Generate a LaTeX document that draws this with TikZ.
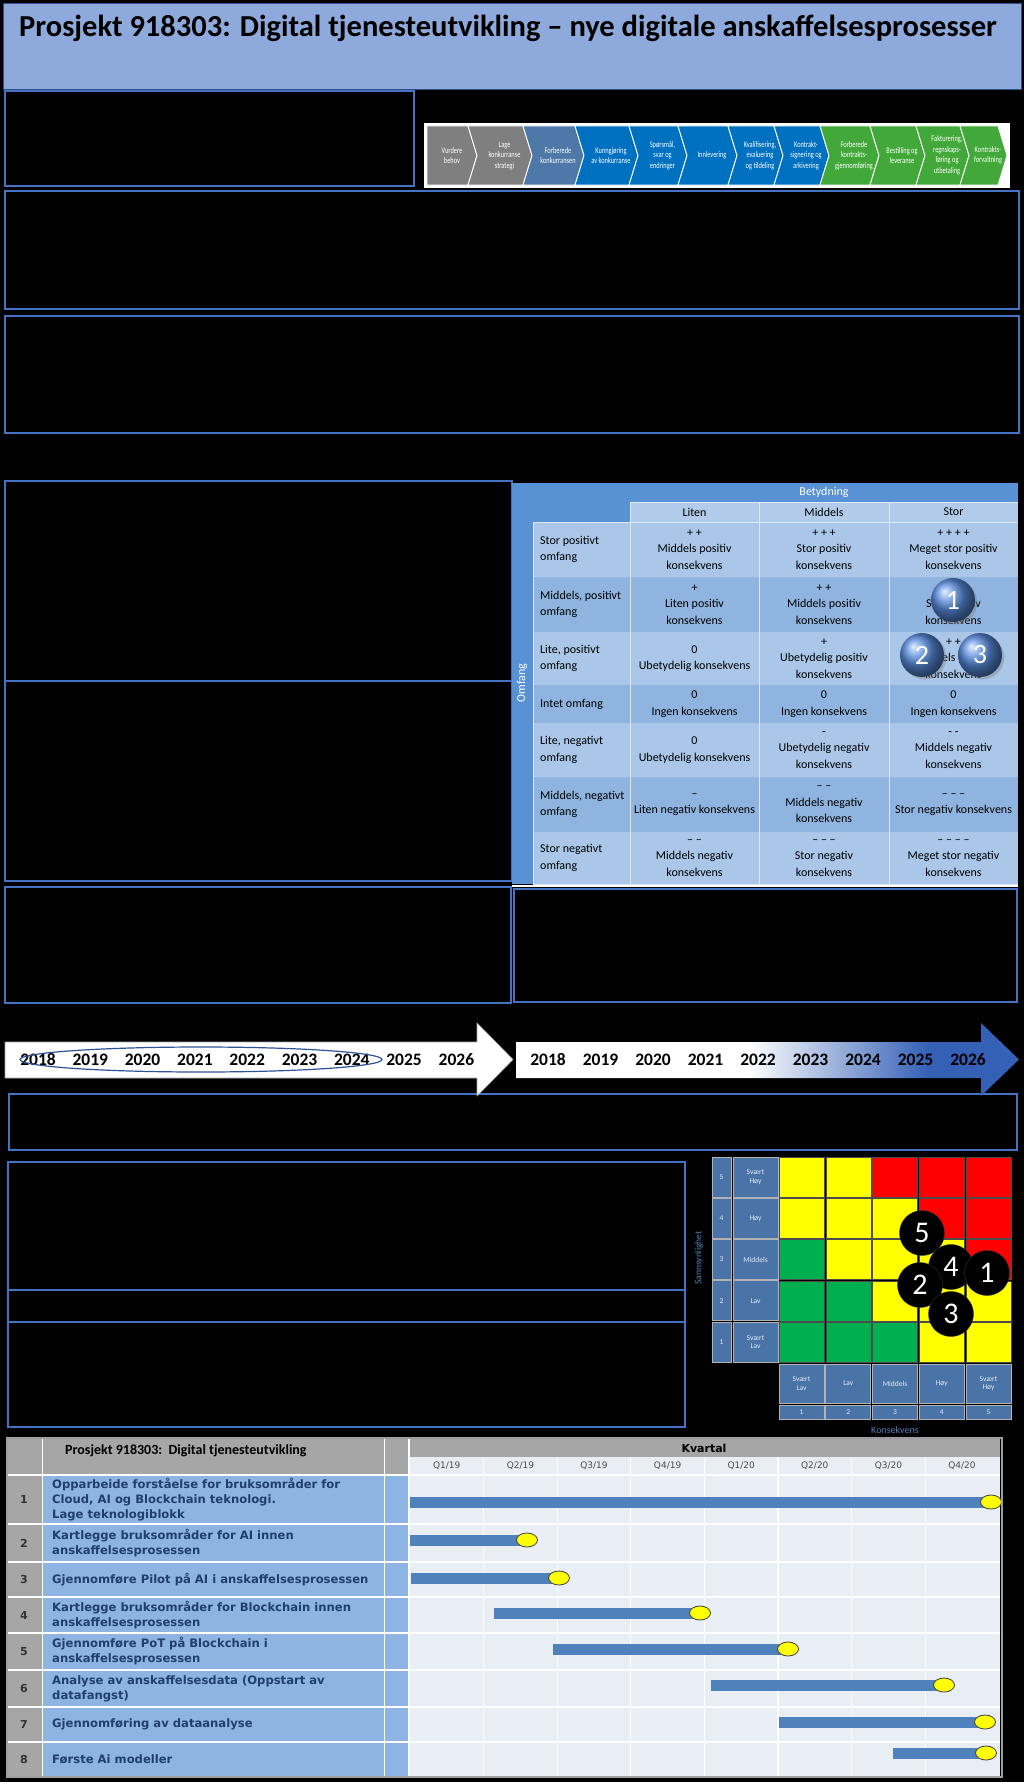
\documentclass[tikz,border=0pt]{standalone}
\usepackage{fontspec}
\setmainfont{Carlito}
\newfontfamily\narrowfont[FakeStretch=0.74]{Carlito}
\newfontfamily\ganttfont{DejaVu Sans}
\usetikzlibrary{shapes.geometric, shadows}
\definecolor{titleblue}{RGB}{142,169,219}
\definecolor{frameblue}{RGB}{68,114,196}
\definecolor{chevgray}{RGB}{127,127,127}
\definecolor{chevsteel}{RGB}{78,120,168}
\definecolor{chevblue}{RGB}{0,112,192}
\definecolor{chevgreen}{RGB}{67,168,58}
\definecolor{tabband}{RGB}{88,146,212}
\definecolor{tabhead}{RGB}{178,203,234}
\definecolor{tablight}{RGB}{170,198,232}
\definecolor{tabdark}{RGB}{143,180,223}
\definecolor{ballblue}{RGB}{88,140,222}
\definecolor{tlblue}{RGB}{52,96,182}
\definecolor{spanblue}{RGB}{46,84,150}
\definecolor{riskY}{RGB}{255,255,0}
\definecolor{riskR}{RGB}{255,0,0}
\definecolor{riskG}{RGB}{0,176,80}
\definecolor{risklbl}{RGB}{74,116,168}
\definecolor{sanblue}{RGB}{79,129,189}
\definecolor{ganttgray}{RGB}{166,166,166}
\definecolor{ganttblue}{RGB}{141,180,226}
\definecolor{ganttbg}{RGB}{233,237,244}
\definecolor{ganttbar}{RGB}{79,129,189}
\definecolor{gantttext}{RGB}{33,62,112}
\pgfdeclarehorizontalshading{yearfade}{100bp}{color(0bp)=(white); color(48bp)=(white); color(66bp)=(tlblue); color(100bp)=(tlblue)}

\begin{document}
\begin{tikzpicture}[
  x=1pt, y=-1pt,
  panel/.style={draw=frameblue, line width=1.3pt},
  chevtxt/.style={text=white, font=\narrowfont\fontsize{8.6}{10.5}\selectfont, align=center, inner sep=0pt},
  cell/.style={font=\fontsize{12}{16.5}\selectfont, align=center, inner sep=0pt},
  rowhead/.style={font=\fontsize{12}{16.5}\selectfont, align=left, anchor=west, inner sep=0pt},
  markball/.style={circle, minimum size=44pt, inner sep=0pt, shading=ball, ball color=ballblue,
    text=white, font=\fontsize{28}{28}\selectfont, drop shadow={opacity=0.4}},
  year/.style={font=\bfseries\fontsize{17.5}{17.5}\selectfont, inner sep=0pt},
  riskcell/.style={minimum width=45pt, minimum height=40pt, inner sep=0pt, draw=black!70, line width=0.5pt},
  risklbl/.style={fill=risklbl, draw=gray!60, line width=0.8pt, text=white!85!risklbl,
    font=\fontsize{7.5}{8.5}\selectfont, align=center, inner sep=0pt},
  riskdot/.style={circle, minimum size=45pt, inner sep=0pt, fill=black, draw=black!80!white,
    text=white, font=\fontsize{30}{30}\selectfont},
  task/.style={font=\ganttfont\bfseries\fontsize{11.6}{15}\selectfont, text=gantttext, align=left,
    anchor=west, inner sep=0pt},
  barline/.style={draw=ganttbar, line width=11pt},
  milestone/.style={ellipse, draw=black!75, fill=riskY, minimum width=21pt, minimum height=14pt,
    inner sep=0pt, line width=0.8pt}
]
\useasboundingbox (0,0) rectangle (1024,1782);
\fill[black] (0,0) rectangle (1024,1782);

% title band
\fill[titleblue] (3,3) rectangle (1021,89);
\draw[frameblue!70!black, line width=0.6pt] (3,3) rectangle (1021,89);
\node[anchor=west, font=\bfseries\fontsize{30.5}{34}\selectfont, inner sep=0pt] (title) at (19,28)
  {Prosjekt 918303: Digital tjenesteutvikling – nye digitale anskaffelsesprosesser};

% empty panels
\draw[panel] (5,91) rectangle (414,186);
\draw[panel] (5,191) rectangle (1019,309);
\draw[panel] (5,316) rectangle (1019,433);
\draw[panel] (5,481) rectangle (512,681);
\draw[panel] (5,681) rectangle (512,881);
\draw[panel] (5,887) rectangle (511,1003);
\draw[panel] (514,889) rectangle (1017,1002);
\draw[panel] (9,1094) rectangle (1017,1150);
\draw[panel] (8,1162) rectangle (685,1290);
\draw[panel] (8,1290) rectangle (685,1322);
\draw[panel] (8,1322) rectangle (685,1427);

% process chevrons
\fill[white] (424,123) rectangle (1010,188);
\foreach \xa/\xb/\cc/\txt [count=\i] in {
  427/468/chevgray/{Vurdere\\behov},
  468/523/chevgray/{Lage\\konkurranse\\strategi},
  523/575/chevsteel/{Forberede\\konkurransen},
  575/629/chevblue/{Kunngjøring\\av konkurranse},
  629/678/chevblue/{Spørsmål,\\svar og\\endringer},
  678/728/chevblue/{Innlevering},
  728/774/chevblue/{Kvalifisering,\\evaluering\\og tildeling},
  774/820/chevblue/{Kontrakt-\\signering og\\arkivering},
  820/870/chevgreen/{Forberede\\kontrakts-\\gjennomføring},
  870/916/chevgreen/{Bestilling og\\leveranse},
  916/960/chevgreen/{Fakturering,\\regnskaps-\\føring og\\utbetaling},
  960/998/chevgreen/{Kontrakts-\\forvaltning}}{
  \pgfmathsetmacro\nd{\i==1 ? 0 : 9}
  \draw[fill=\cc, draw=white, line width=0.9pt] (\xa,126) -- (\xb,126) -- (\xb+9,155.5) -- (\xb,185)
    -- (\xa,185) -- (\xa+\nd,155.5) -- cycle;
  \node[chevtxt] (ch\i) at ({(\xa+\nd+\xb+9)/2},155.5) {\txt};
}

% consequence table
\fill[tabband] (512,483) rectangle (1018,884);
\fill[tabhead] (630,502) rectangle (1018,522);
\node[cell, text=white] (betydning) at (824,492.5) {Betydning};
\node[cell, text=white, rotate=90] (omfang) at (522,683) {Omfang};
\node[cell] (liten) at (694.5,512) {Liten};
\node[cell] (middels) at (824,512) {Middels};
\node[cell] (stor) at (953.5,512) {Stor};
\foreach \ya/\yb/\rc/\hd/\tA/\tB/\tC [count=\i] in {
  522/577/tablight/{Stor positivt\\omfang}/{+ +\\Middels positiv\\konsekvens}/{+ + +\\Stor positiv\\konsekvens}/{+ + + +\\Meget stor positiv\\konsekvens},
  577/632/tabdark/{Middels, positivt\\omfang}/{+\\Liten positiv\\konsekvens}/{+ +\\Middels positiv\\konsekvens}/{+ + +\\Stor positiv\\konsekvens},
  632/685/tablight/{Lite, positivt\\omfang}/{0\\Ubetydelig konsekvens}/{+\\Ubetydelig positiv\\konsekvens}/{+ +\\Middels positiv\\konsekvens},
  685/723/tabdark/{Intet omfang}/{0\\Ingen konsekvens}/{0\\Ingen konsekvens}/{0\\Ingen konsekvens},
  723/777/tablight/{Lite, negativt\\omfang}/{0\\Ubetydelig konsekvens}/{-\\Ubetydelig negativ\\konsekvens}/{- -\\Middels negativ\\konsekvens},
  777/832/tabdark/{Middels, negativt\\omfang}/{–\\Liten negativ konsekvens}/{– –\\Middels negativ\\konsekvens}/{– – –\\Stor negativ konsekvens},
  832/884/tablight/{Stor negativt\\omfang}/{– –\\Middels negativ\\konsekvens}/{– – –\\Stor negativ\\konsekvens}/{– – – –\\Meget stor negativ\\konsekvens}}{
  \fill[fill=\rc] (533,\ya) rectangle (1018,\yb);
  \node[rowhead] (om\i) at (540,{(\ya+\yb)/2}) {\hd};
  \node[cell] (ka\i) at (694.5,{(\ya+\yb)/2}) {\tA};
  \node[cell] (kb\i) at (824,{(\ya+\yb)/2}) {\tB};
  \node[cell] (kc\i) at (953.5,{(\ya+\yb)/2}) {\tC};
  \draw[white!60!tablight, line width=0.8pt] (533,\yb) -- (1018,\yb);
}
\draw[white!60!tablight, line width=0.8pt] (630,502) -- (1018,502) (533,522) -- (1018,522);
\foreach \x in {630,759,889} \draw[white!60!tablight, line width=0.8pt] (\x,502) -- (\x,884);
\draw[white!60!tablight, line width=0.8pt] (533,522) -- (533,884);
\draw[white, line width=1.5pt] (512,886) -- (1018,886);
\node[markball] (ball1) at (953,600) {1};
\node[markball] (ball2) at (922,655) {2};
\node[markball] (ball3) at (980,655) {3};

% time line
\draw[fill=white, draw=gray!70, line width=0.6pt] (5,1042) -- (477,1042) -- (477,1023) -- (513,1059.5)
  -- (477,1096) -- (477,1078) -- (5,1078) -- cycle;
\shade[shading=yearfade] (516,1042) -- (981,1042) -- (981,1023) -- (1019,1059.5) -- (981,1096)
  -- (981,1078) -- (516,1078) -- cycle;
\foreach \yr [count=\k] in {2018,...,2026}{
  \node[year] (ya\k) at ({38+52.3*(\k-1)},1059.5) {\yr};
  \node[year] (yb\k) at ({548+52.5*(\k-1)},1059.5) {\yr};
}
\node[ellipse, draw=spanblue, line width=1.2pt, minimum width=362pt, minimum height=25pt, inner sep=0pt]
  (span) at (201,1059.5) {};

% risk matrix
\foreach \p/\cols in {5/{riskY,riskY,riskR,riskR,riskR}, 4/{riskY,riskY,riskY,riskR,riskR},
  3/{riskG,riskY,riskY,riskY,riskR}, 2/{riskG,riskG,riskY,riskY,riskY}, 1/{riskG,riskG,riskG,riskY,riskY}}{
  \foreach \cc [count=\c] in \cols {
    \node[riskcell, fill=\cc] (rc\p\c) at ({801.5+46.75*(\c-1)},{1177+41.25*(5-\p)}) {};
  }
}
\foreach \p/\lbl in {5/{Svært\\Høy}, 4/Høy, 3/Middels, 2/Lav, 1/{Svært\\Lav}}{
  \node[risklbl, minimum width=19pt, minimum height=40pt] (pn\p) at (721.5,{1177+41.25*(5-\p)}) {\p};
  \node[risklbl, minimum width=45pt, minimum height=40pt] (pl\p) at (755.5,{1177+41.25*(5-\p)}) {\lbl};
}
\foreach \c/\lbl in {1/{Svært\\Lav}, 2/Lav, 3/Middels, 4/Høy, 5/{Svært\\Høy}}{
  \node[risklbl, minimum width=45pt, minimum height=39pt] (kl\c) at ({801.5+46.75*(\c-1)},1383.5) {\lbl};
  \node[risklbl, minimum width=45pt, minimum height=14pt] (kn\c) at ({801.5+46.75*(\c-1)},1412) {\c};
}
\node[rotate=90, text=sanblue, font=\fontsize{9.5}{10}\selectfont] (sannsyn) at (699,1258) {Sannsynlighet};
\node[text=sanblue, font=\fontsize{10}{11}\selectfont] (konsekvens) at (895,1430) {Konsekvens};
\node[riskdot] (dot5) at (922,1233) {5};
\node[riskdot] (dot4) at (951,1267) {4};
\node[riskdot] (dot2) at (920,1285) {2};
\node[riskdot] (dot1) at (987,1273) {1};
\node[riskdot] (dot3) at (951,1314) {3};

% gantt plan
\fill[ganttgray] (7,1438) rectangle (1000,1457);
\fill[ganttgray] (7,1457) rectangle (409,1474);
\fill[ganttbg] (409,1457) rectangle (1000,1777);
\node[anchor=west, font=\bfseries\fontsize{14}{16}\selectfont, inner sep=0pt] (gtitle) at (65,1451)
  {Prosjekt 918303:\ \ Digital tjenesteutvikling};
\node[font=\ganttfont\bfseries\fontsize{11}{12}\selectfont] (kvartal) at (704,1448) {Kvartal};
\foreach \q/\yr [count=\k] in {1/19,2/19,3/19,4/19,1/20,2/20,3/20,4/20}
  \node[font=\ganttfont\fontsize{9}{10}\selectfont, text=black!70] (q\k) at ({446.8+73.6*(\k-1)},1466) {Q\q/\yr};
\foreach \k in {1,...,7} \draw[white, line width=1.2pt] ({410+73.6*\k},1457) -- ({410+73.6*\k},1777);
\foreach \ya/\yb/\txt [count=\i] in {
  1475/1524/{Opparbeide forståelse for bruksområder for\\Cloud, AI og Blockchain teknologi.\\Lage teknologiblokk},
  1524/1562/{Kartlegge bruksområder for AI innen\\anskaffelsesprosessen},
  1562/1597/{Gjennomføre Pilot på AI i anskaffelsesprosessen},
  1597/1633/{Kartlegge bruksområder for Blockchain innen\\anskaffelsesprosessen},
  1633/1670/{Gjennomføre PoT på Blockchain i\\anskaffelsesprosessen},
  1670/1707/{Analyse av anskaffelsesdata (Oppstart av\\datafangst)},
  1707/1742/{Gjennomføring av dataanalyse},
  1742/1777/{Første Ai modeller}}{
  \fill[ganttgray] (7,\ya) rectangle (42,\yb);
  \fill[ganttblue] (43,\ya) rectangle (409,\yb);
  \node[font=\ganttfont\bfseries\fontsize{11}{12}\selectfont, text=black!80] (nr\i) at (24,{(\ya+\yb)/2}) {\i};
  \node[task] (task\i) at (52,{(\ya+\yb)/2}) {\txt};
  \draw[white, line width=1.5pt] (7,\ya) -- (1000,\ya);
}
\draw[white, line width=1.5pt] (42.5,1438) -- (42.5,1777) (384.5,1438) -- (384.5,1777) (409,1438) -- (409,1777);
\foreach \xs/\xe/\y [count=\i] in {410/991/1502, 410/527/1540, 411/559/1578, 494/700/1613,
  553/788/1649, 711/944/1685, 779/985/1722, 893/986/1753}{
  \coordinate (bs\i) at (\xs,\y);
  \coordinate (be\i) at (\xe,\y);
  \draw[barline] (bs\i) -- (be\i);
  \node[milestone] (ms\i) at (be\i) {};
}
\draw[gray!75, line width=1.5pt] (7,1438) rectangle (1002,1777);
\end{tikzpicture}
\end{document}
